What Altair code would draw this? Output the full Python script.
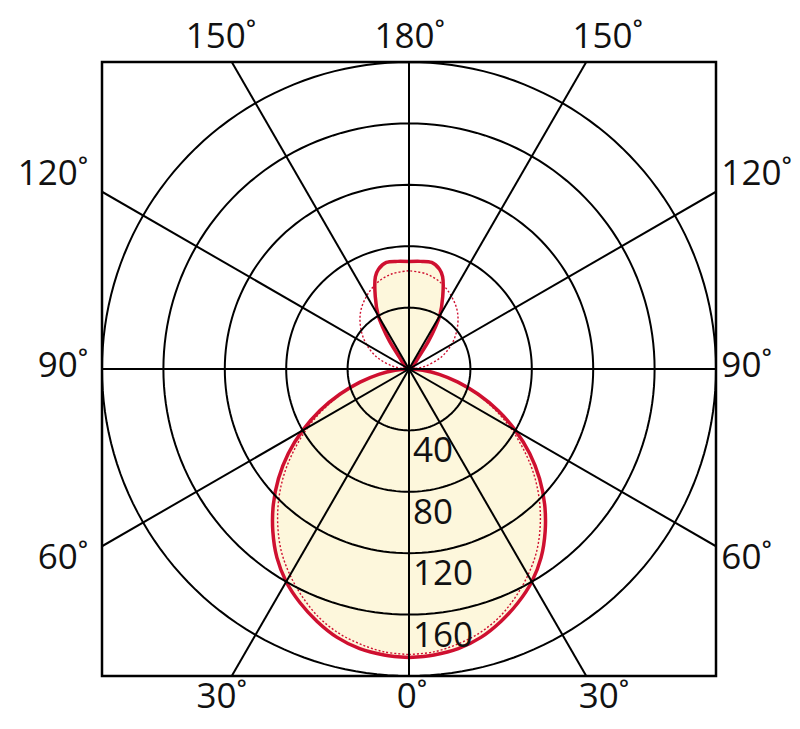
import altair as alt
import pandas as pd

SOLID_GAMMA = [0, 5, 10, 15, 20, 25, 30, 35, 40, 45, 50, 55, 60, 65, 70, 75, 80, 85, 90,
               95, 100, 110, 120, 130, 135, 140, 145, 148, 150, 155, 160, 163, 168, 174, 180]
SOLID_CD = [188, 187, 185, 181, 175, 168, 160, 150, 138, 125, 111, 96, 80, 64, 48, 33, 20, 9, 2,
            1, 1, 2, 3, 4, 6, 9, 22, 33, 40, 52, 64, 68, 71, 70.5, 70]

DOT_GAMMA = [0, 5, 10, 15, 20, 25, 30, 35, 40, 45, 50, 55, 60, 65, 70, 75, 80, 85, 90,
             95, 100, 110, 120, 130, 140, 150, 160, 170, 180]
DOT_CD = [186, 185, 182, 178, 172, 164, 155, 145, 133, 120, 106, 91, 76, 61, 46, 32, 19, 8, 2,
          5, 11, 22, 32, 41, 49, 55, 60, 63, 64]

RINGS = [40, 80, 120, 160, 200]
RING_LABELS = [40, 80, 120, 160]
SPOKES = [0, 30, 60, 90, 120, 150, 180, 210, 240, 270, 300, 330]

ANGLE_TEXT = ["150˚", "180˚", "150˚", "30˚", "0˚", "30˚"]
ANGLE_X = [-122.5, 0.5, 129.5, -122, 2, 127]
ANGLE_Y = [216, 216, 216, -214, -214, -214]
SIDE_TEXT = ["120˚", "90˚", "60˚"]
SIDE_Y = [127, 2, -123]

RED = "#cf1030"
FILL = "#fdf7dc"
FONT = "Open Sans"
FS = 35


def closed_curve(gammas, values):
    rows = []
    k = 0
    for g, v in zip(gammas, values):
        rows.append({"t": g, "I": v, "o": k})
        k += 1
    for g, v in zip(reversed(gammas), reversed(values)):
        rows.append({"t": 360 - g, "I": v, "o": k})
        k += 1
    return pd.DataFrame(rows)


solid_df = closed_curve(SOLID_GAMMA, SOLID_CD)
dot_df = closed_curve(DOT_GAMMA, DOT_CD)

ring_df = pd.DataFrame([{"r": r, "a": a} for r in RINGS for a in range(0, 361, 2)])
spoke_df = pd.DataFrame({"a": SPOKES})
ring_lab_df = pd.DataFrame({"v": RING_LABELS, "txt": [str(v) for v in RING_LABELS]})
ang_df = pd.DataFrame({"txt": ANGLE_TEXT, "x": ANGLE_X, "y": ANGLE_Y})
left_df = pd.DataFrame({"txt": SIDE_TEXT, "y": SIDE_Y, "x": [-209] * 3})
right_df = pd.DataFrame({"txt": SIDE_TEXT, "y": SIDE_Y, "x": [203.5] * 3})

sc = alt.Scale(domain=[-200, 200], nice=False, zero=False)


def X(f):
    return alt.X(f, type="quantitative", scale=sc, axis=None)


def Y(f):
    return alt.Y(f, type="quantitative", scale=sc, axis=None)


polar = dict(px="datum.I * sin(datum.t * PI / 180)", py="-datum.I * cos(datum.t * PI / 180)")

fill_layer = alt.Chart(solid_df).transform_calculate(**polar).mark_line(
    fill=FILL, stroke=None, strokeWidth=0, interpolate="catmull-rom", clip=True
).encode(x=X("px"), y=Y("py"), order="o:Q")

solid_line = alt.Chart(solid_df).transform_calculate(**polar).mark_line(
    color=RED, strokeWidth=3.5, interpolate="catmull-rom", clip=True
).encode(x=X("px"), y=Y("py"), order="o:Q")

dot_line = alt.Chart(dot_df).transform_calculate(**polar).mark_line(
    color=RED, strokeWidth=1.4, strokeDash=[2, 2], interpolate="catmull-rom", clip=True
).encode(x=X("px"), y=Y("py"), order="o:Q")

rings = alt.Chart(ring_df).transform_calculate(
    px="datum.r * sin(datum.a * PI / 180)", py="datum.r * cos(datum.a * PI / 180)"
).mark_line(color="black", strokeWidth=2, clip=True).encode(
    x=X("px"), y=Y("py"), detail="r:N", order="a:Q"
)

spokes = alt.Chart(spoke_df).transform_calculate(
    x0="0", y0="0",
    x1="400 * sin(datum.a * PI / 180)", y1="400 * cos(datum.a * PI / 180)"
).mark_rule(color="black", strokeWidth=2, clip=True).encode(
    x=X("x0"), y=Y("y0"), x2="x1:Q", y2="y1:Q"
)

ring_text = alt.Chart(ring_lab_df).transform_calculate(
    px="2.6", py="-datum.v"
).mark_text(align="left", baseline="middle", dy=21, font=FONT, fontSize=FS, color="#111111").encode(
    x=X("px"), y=Y("py"), text="txt:N"
)

ang_text = alt.Chart(ang_df).mark_text(
    align="center", baseline="middle", font=FONT, fontSize=FS, color="#111111"
).encode(x=X("x"), y=Y("y"), text="txt:N")

left_text = alt.Chart(left_df).mark_text(
    align="right", baseline="middle", font=FONT, fontSize=FS, color="#111111"
).encode(x=X("x"), y=Y("y"), text="txt:N")

right_text = alt.Chart(right_df).mark_text(
    align="left", baseline="middle", font=FONT, fontSize=FS, color="#111111"
).encode(x=X("x"), y=Y("y"), text="txt:N")

chart = alt.layer(
    fill_layer, solid_line, dot_line, rings, spokes, ring_text, ang_text, left_text, right_text
).properties(
    width=614, height=614,
    autosize=alt.AutoSizeParams(type="none"),
    padding={"left": 94, "top": 54, "right": 76, "bottom": 44},
    background="white",
).configure_view(stroke="black", strokeWidth=2.5)

chart.save("out.html", embed_options={"renderer": "svg", "actions": False})
